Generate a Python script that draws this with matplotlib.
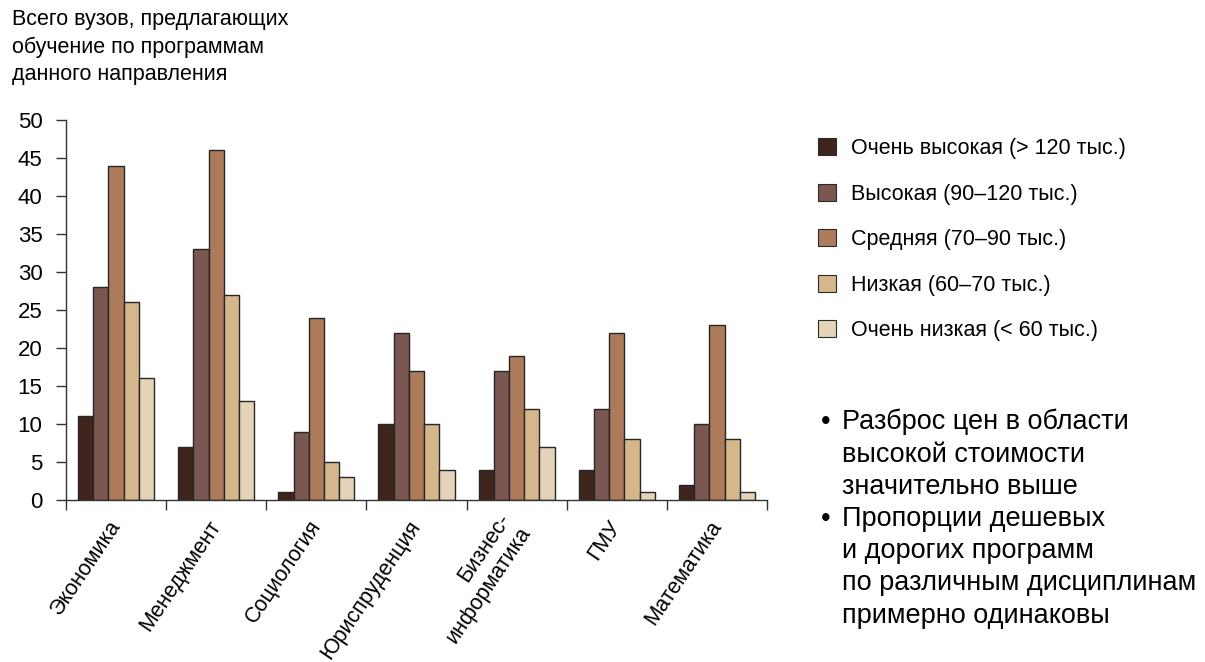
import numpy as np
import matplotlib.pyplot as plt
from matplotlib.patches import Patch

plt.rcParams['font.family'] = ['Liberation Sans', 'DejaVu Sans']

# data
categories = ['Экономика', 'Менеджмент', 'Социология', 'Юриспруденция',
              'Бизнес-\nинформатика', 'ГМУ', 'Математика']
series_names = ['Очень высокая (> 120 тыс.)', 'Высокая (90–120 тыс.)',
                'Средняя (70–90 тыс.)', 'Низкая (60–70 тыс.)',
                'Очень низкая (< 60 тыс.)']
very_high = [11, 7, 1, 10, 4, 4, 2]
high = [28, 33, 9, 22, 17, 12, 10]
medium = [44, 46, 24, 17, 19, 22, 23]
low = [26, 27, 5, 10, 12, 8, 8]
very_low = [16, 13, 3, 4, 7, 1, 1]
series = [very_high, high, medium, low, very_low]
colors = ['#40251d', '#7a5750', '#ad7b5a', '#d4b88c', '#e4d3b8']

fig = plt.figure(figsize=(12.05, 6.62), dpi=100)
ax = fig.add_axes([66 / 1205, 1 - 500 / 662, 701 / 1205, 380 / 662])

x = np.arange(len(categories))
w = 0.152
for i, (vals, c) in enumerate(zip(series, colors)):
    ax.bar(x + (i - 2) * w, vals, width=w, color=c, edgecolor='#262626',
           linewidth=1.0, label=series_names[i])

ax.set_xlim(-0.5, len(categories) - 0.5)
ax.set_ylim(0, 50)
ax.set_yticks(range(0, 51, 5))
ax.tick_params(axis='y', direction='out', length=7, width=1, labelsize=16,
               pad=10, color='#333333')

for s in ['top', 'right']:
    ax.spines[s].set_visible(False)
for s in ['left', 'bottom']:
    ax.spines[s].set_color('#333333')
    ax.spines[s].set_linewidth(1)

# ticks at group boundaries, labels at centres
ax.set_xticks(np.arange(-0.5, len(categories)), minor=True)
ax.set_xticks(x)
ax.tick_params(axis='x', which='minor', direction='out', length=7, width=1,
               color='#333333')
ax.tick_params(axis='x', which='major', length=0, pad=16)
ax.set_xticklabels(categories, rotation=56, ha='right', va='center',
                   rotation_mode='anchor', fontsize=15.5)

fig.text(12 / 1205, 1 - 9 / 662,
         'Всего вузов, предлагающих\nобучение по программам\nданного направления',
         ha='left', va='top', fontsize=15.5, linespacing=1.4)

handles = [Patch(facecolor=c, edgecolor='#2b2b2b', linewidth=0.8) for c in colors]
fig.legend(handles, series_names, loc='upper left',
           bbox_to_anchor=(818 / 1205, 1 - 138 / 662), frameon=False,
           fontsize=15.5, labelspacing=1.14, handlelength=0.85, handleheight=0.85,
           handletextpad=0.7, borderpad=0, borderaxespad=0)

notes = ['Разброс цен в области\nвысокой стоимости\nзначительно выше',
         'Пропорции дешевых\nи дорогих программ\nпо различным дисциплинам\nпримерно одинаковы']
fig.text(842 / 1205, 1 - 409 / 662, '\n'.join(notes), ha='left', va='top',
         fontsize=19.5, linespacing=1.31)
fig.text(821 / 1205, 1 - 409 / 662, '•\n\n\n•', ha='left', va='top',
         fontsize=19.5, linespacing=1.31)

fig.savefig('out.png', dpi=100)
